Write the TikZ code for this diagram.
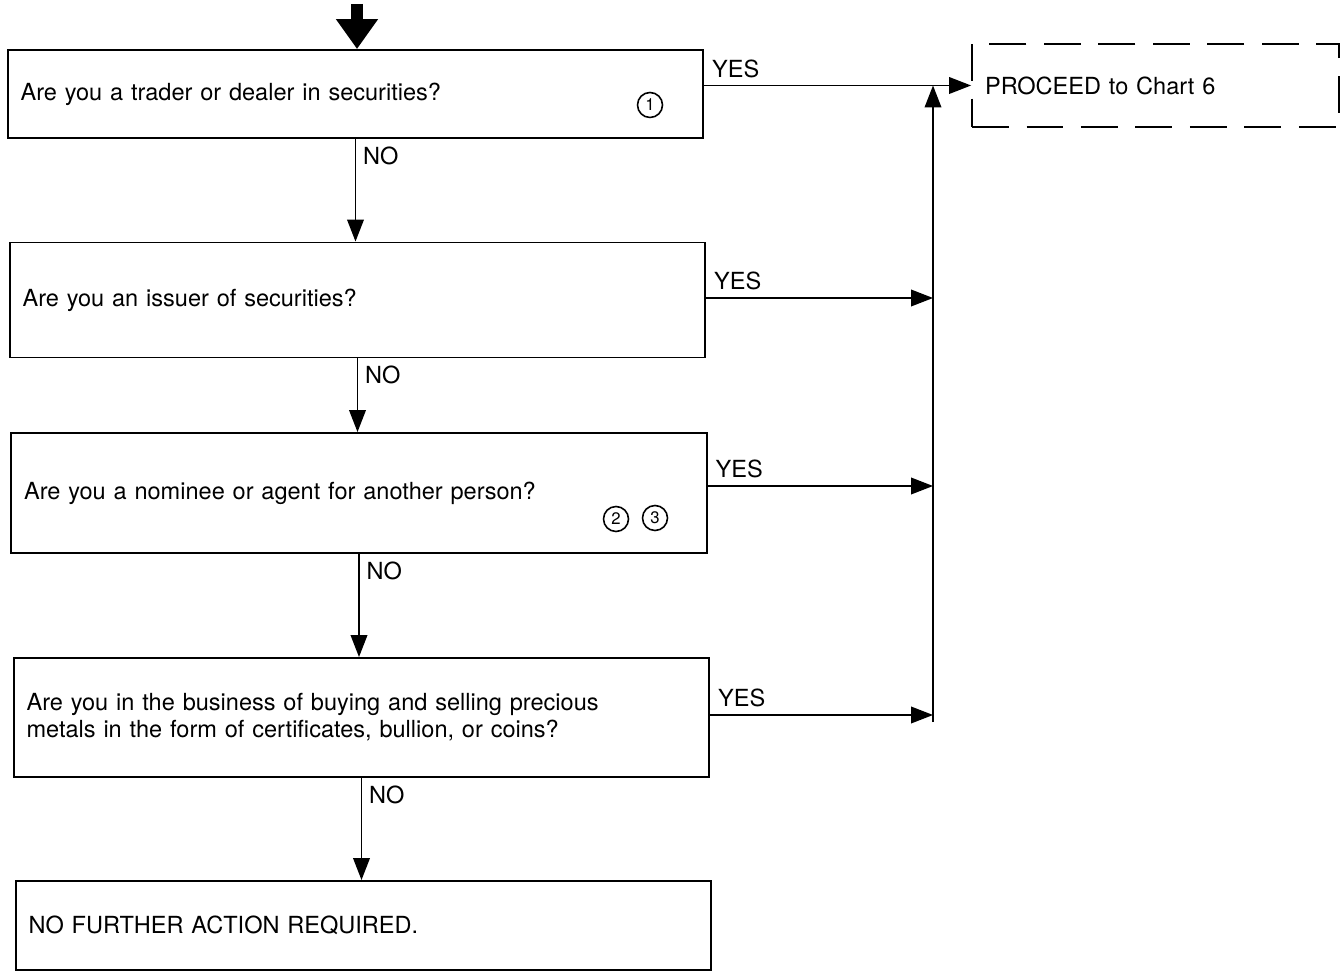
\documentclass[tikz,border=0pt]{standalone}
\usepackage{fontspec}
\setmainfont{TeX Gyre Heros}
\usetikzlibrary{arrows.meta}

\tikzset{
  qbox/.style={draw, line width=1.1pt, minimum width=13.92cm, text width=13.4cm,
    inner xsep=0.26cm, align=left, font=\fontsize{13.4}{15.4}\selectfont},
  conn/.style={line width=0.8pt, -{Triangle[length=12.5pt,width=9.5pt]}},
  lbl/.style={font=\fontsize{13.4}{15.4}\selectfont, inner sep=4pt},
  numc/.style={draw, circle, line width=0.9pt, minimum size=0.5cm, inner sep=0pt,
    font=\fontsize{9.5}{9.5}\selectfont},
}

\begin{document}
\begin{tikzpicture}[x=0.02cm, y=-0.02cm]
\useasboundingbox (0,0) rectangle (1341,972);
\node[qbox, minimum height=1.76cm] (q1) at (355.5,94) {Are you a trader or dealer in securities?};
\node[qbox, minimum height=2.3cm] (q2) at (357.5,300) {Are you an issuer of securities?};
\node[qbox, minimum height=2.4cm] (q3) at (359,493) {Are you a nominee or agent for another person?};
\node[qbox, minimum height=2.38cm] (q4) at (361.5,717.5) {Are you in the business of buying and selling precious\\metals in the form of certificates, bullion, or coins?};
\node[qbox, minimum height=1.78cm] (qend) at (363.5,925.5) {NO FURTHER ACTION REQUIRED.};
\node[draw, line width=1.1pt, dash pattern=on 21pt off 10pt, minimum width=7.34cm, minimum height=1.66cm,
  text width=6.82cm, inner xsep=0.26cm, align=left, font=\fontsize{13.4}{15.4}\selectfont]
  (proceed) at (1155.5,85.5) {PROCEED to Chart 6};
\node[numc] (n1) at (650,105) {1};
\node[numc] (n2) at (616,519) {2};
\node[numc] (n3) at (655,518) {3};

\coordinate (start) at (357,4);
\coordinate (busbot) at (933,722);
\draw[line width=6.8pt, -{Triangle[length=17pt,width=22.8pt]}] (start) -- (start |- q1.north);

\draw[conn] (q1.east |- proceed.west) -- (proceed.west) node[lbl, pos=0, above right] (y1) {YES};
\draw[conn] (busbot) -- (busbot |- proceed.west);
\draw[conn] ([yshift=0.04cm]q2.east) -- ([yshift=0.04cm]q2.east -| busbot) node[lbl, pos=0, above right] (y2) {YES};
\draw[conn] ([yshift=0.14cm]q3.east) -- ([yshift=0.14cm]q3.east -| busbot) node[lbl, pos=0, above right] (y3) {YES};
\draw[conn] ([yshift=0.05cm]q4.east) -- ([yshift=0.05cm]q4.east -| busbot) node[lbl, pos=0, above right] (y4) {YES};

\draw[conn] (q1.south) -- (q1.south |- q2.north) node[lbl, pos=0, below right] (no1) {NO};
\draw[conn] (q2.south) -- (q2.south |- q3.north) node[lbl, pos=0, below right] (no2) {NO};
\draw[conn] (q3.south) -- (q3.south |- q4.north) node[lbl, pos=0, below right] (no3) {NO};
\draw[conn] (q4.south) -- (q4.south |- qend.north) node[lbl, pos=0, below right] (no4) {NO};
\end{tikzpicture}
\end{document}
